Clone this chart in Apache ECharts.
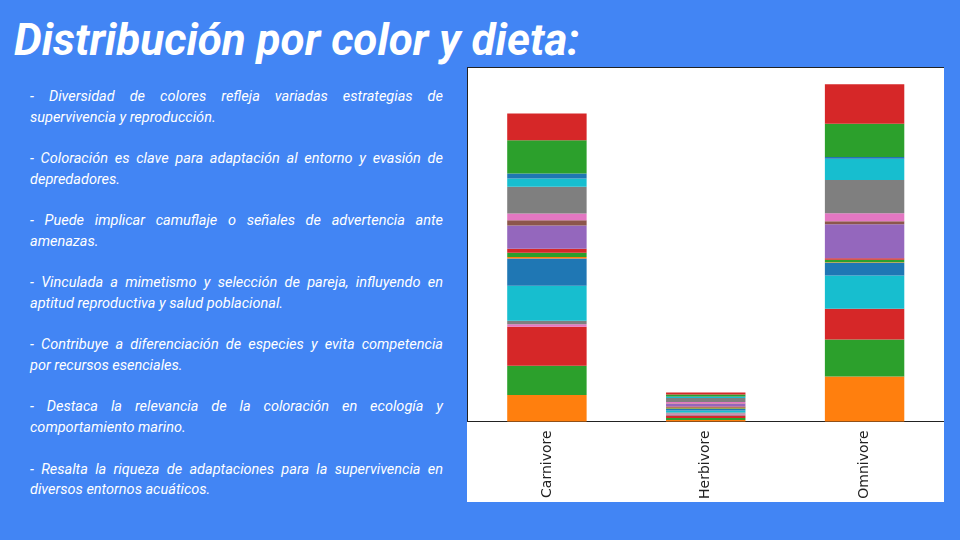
<!DOCTYPE html>
<html>
<head>
<meta charset="utf-8">
<script src="https://cdn.jsdelivr.net/npm/echarts@6/dist/echarts.min.js"></script>
<style>
  html, body { margin:0; padding:0; }
  body { width:960px; height:540px; background:#4285f4; position:relative; overflow:hidden; font-family:Roboto, sans-serif; }
  #title { position:absolute; left:14px; top:18px; font-size:44px; line-height:44px; font-weight:700; font-style:italic; color:#fff; white-space:nowrap; }
  #text { position:absolute; left:30px; top:87px; width:413px; font-size:14.5px; line-height:20.7px; font-style:italic; color:#fff; }
  #text .p { margin-bottom:20.7px; }
  #text .l1 { text-align:justify; text-align-last:justify; white-space:nowrap; }
  #chart { position:absolute; left:467px; top:67px; width:477px; height:435px; background:#fff; }
</style>
</head>
<body>
<div id="title">Distribución por color y dieta:</div>
<div id="text"></div>
<div id="chart"></div>
<script>
const titleText = 'Distribución por color y dieta:';
const bullets = [
  ['- Diversidad de colores refleja variadas estrategias de', 'supervivencia y reproducción.'],
  ['- Coloración es clave para adaptación al entorno y evasión de', 'depredadores.'],
  ['- Puede implicar camuflaje o señales de advertencia ante', 'amenazas.'],
  ['- Vinculada a mimetismo y selección de pareja, influyendo en', 'aptitud reproductiva y salud poblacional.'],
  ['- Contribuye a diferenciación de especies y evita competencia', 'por recursos esenciales.'],
  ['- Destaca la relevancia de la coloración en ecología y', 'comportamiento marino.'],
  ['- Resalta la riqueza de adaptaciones para la supervivencia en', 'diversos entornos acuáticos.']
];

const categories = ['Carnivore', 'Herbivore', 'Omnivore'];
// stacked segment values, series 0..23 from bottom to top
const carnivore = [0, 26.3, 29.3, 39, 0, 0, 2.7, 3.3, 0, 35, 27.3, 1.5, 4.3, 4, 23.3, 5.3, 6.7, 26.7, 0, 8.3, 5, 0, 33.3, 26.7];
const herbivore = [0, 1.5, 2, 2, 0.5, 1, 1, 1, 0, 2, 1.5, 0.5, 1, 1, 2.5, 0.5, 1.5, 4, 0, 1, 0.5, 0, 2, 2];
const omnivore  = [0, 45, 37, 30.7, 0, 0, 0, 0, 0, 33.3, 12.7, 0.5, 2.5, 1.5, 34, 3, 8, 33.3, 0, 21.3, 1.7, 0, 33.3, 39.3];
const palette = ['#1f77b4', '#ff7f0e', '#2ca02c', '#d62728', '#9467bd', '#8c564b', '#e377c2', '#7f7f7f', '#bcbd22', '#17becf'];

document.getElementById('title').textContent = titleText;
const textEl = document.getElementById('text');
bullets.forEach(b => {
  const p = document.createElement('div'); p.className = 'p';
  const a = document.createElement('div'); a.className = 'l1'; a.textContent = b[0];
  const c = document.createElement('div'); c.textContent = b[1];
  p.appendChild(a); p.appendChild(c); textEl.appendChild(p);
});

const series = carnivore.map((v, i) => ({
  name: 'Color ' + (i + 1),
  type: 'bar',
  stack: 'total',
  barWidth: '50%',
  itemStyle: { color: palette[i % 10] },
  data: [carnivore[i], herbivore[i], omnivore[i]]
}));
const sum = a => a.reduce((s, x) => s + x, 0);
const ymax = Math.max(sum(carnivore), sum(herbivore), sum(omnivore)) * 1.05;

const chart = echarts.init(document.getElementById('chart'), null, { renderer: 'canvas' });
chart.setOption({
  animation: false,
  grid: { left: 0.5, right: 0, top: 0.5, bottom: 80, containLabel: false },
  xAxis: [{
    type: 'category', data: categories, position: 'bottom',
    axisLine: { lineStyle: { color: '#222', width: 1 } },
    axisTick: { alignWithLabel: true, length: 4, lineStyle: { color: '#222' } },
    axisLabel: { rotate: 90, margin: 9, color: '#222', fontFamily: 'DejaVu Sans', fontSize: 14 }
  }, {
    type: 'category', data: categories, position: 'top',
    axisLine: { lineStyle: { color: '#222', width: 1 } },
    axisTick: { show: false }, axisLabel: { show: false }
  }],
  yAxis: {
    type: 'value', min: 0, max: ymax,
    axisLine: { show: true, lineStyle: { color: '#222', width: 1 } },
    axisTick: { show: false }, axisLabel: { show: false }, splitLine: { show: false }
  },
  series: series
});
</script>
</body>
</html>
